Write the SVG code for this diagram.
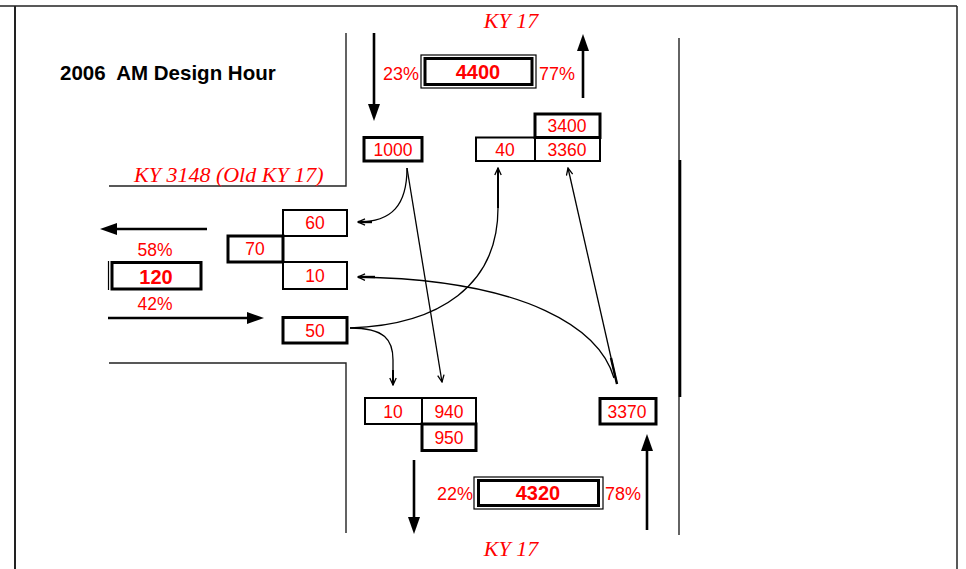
<svg xmlns="http://www.w3.org/2000/svg" width="966" height="569" viewBox="0 0 966 569">
<style>
.road{stroke:#222;stroke-width:1.4;fill:none}
.frame{stroke:#222;fill:none}
.box{fill:#fff;stroke:#000;stroke-width:2}
.tbox{fill:#fff;stroke:#000;stroke-width:3}
.num{font-family:"Liberation Sans",Arial,sans-serif;font-size:17.5px;fill:#ff0000;text-anchor:middle}
.big{font-family:"Liberation Sans",Arial,sans-serif;font-size:20px;font-weight:bold;fill:#ff0000;text-anchor:middle}
.pct{font-family:"Liberation Sans",Arial,sans-serif;font-size:18px;fill:#ff0000}
.road-name{font-family:"Liberation Serif","Times New Roman",serif;font-style:italic;font-size:22px;fill:#ff0000}
.main{stroke:#000;stroke-width:2.6;fill:none;marker-end:url(#head)}
.turn{stroke:#000;stroke-width:1.3;fill:none;marker-end:url(#open)}
</style>
<defs>
<marker id="head" markerUnits="userSpaceOnUse" viewBox="0 0 17 12" refX="4" refY="6" markerWidth="17" markerHeight="12" orient="auto">
<path d="M0,0 L17,6 L0,12 z" fill="#000"/>
</marker>
<marker id="open" markerUnits="userSpaceOnUse" viewBox="0 0 9 8" refX="8" refY="4" markerWidth="9" markerHeight="8" orient="auto">
<path d="M1,0.8 L8,4 L1,7.2" fill="none" stroke="#000" stroke-width="1.3"/>
</marker>
</defs>

<g id="frame">
<line class="frame" x1="0" y1="6" x2="957" y2="6" stroke-width="1.5"/>
<line class="frame" x1="15" y1="6" x2="15" y2="569" stroke-width="2"/>
<line class="frame" x1="957" y1="6" x2="957" y2="569" stroke-width="1.5"/>
</g>

<g id="roads">
<polyline class="road" points="346,33 346,186 109,186"/>
<polyline class="road" points="109,363 346,363 346,533"/>
<line class="road" x1="679" y1="38" x2="679" y2="535"/>
<line x1="680" y1="160" x2="680" y2="397" stroke="#000" stroke-width="2.6"/>
</g>

<g id="labels">
<text x="60" y="80" xml:space="preserve" font-family="'Liberation Sans',Arial,sans-serif" font-size="20.5" font-weight="bold" fill="#000">2006  AM Design Hour</text>
<text class="road-name" x="134" y="182">KY 3148 (Old KY 17)</text>
<text class="road-name" x="511" y="28" text-anchor="middle">KY 17</text>
<text class="road-name" x="511" y="556" text-anchor="middle">KY 17</text>
</g>

<g id="north-total">
<rect x="421" y="55" width="115" height="33" fill="#fff" stroke="#000" stroke-width="1.2"/>
<rect x="425" y="58.5" width="107" height="26" fill="none" stroke="#000" stroke-width="3"/>
<text class="big" x="478" y="79">4400</text>
<text class="pct" x="383" y="80">23%</text>
<text class="pct" x="539" y="80">77%</text>
</g>

<g id="south-total">
<rect x="474" y="477" width="129" height="32" fill="#fff" stroke="#000" stroke-width="1.2"/>
<rect x="478.5" y="480.5" width="120" height="25" fill="none" stroke="#000" stroke-width="3"/>
<text class="big" x="538" y="500">4320</text>
<text class="pct" x="437" y="500">22%</text>
<text class="pct" x="605" y="500">78%</text>
</g>

<g id="west-total">
<line x1="108.5" y1="261" x2="108.5" y2="290" stroke="#000" stroke-width="1.2"/>
<rect x="112" y="262.5" width="89" height="26.5" fill="#fff" stroke="#000" stroke-width="3"/>
<text class="big" x="156" y="284">120</text>
<text class="num" x="155" y="256">58%</text>
<text class="num" x="155" y="310">42%</text>
</g>

<g id="n-1000"><rect class="tbox" x="364" y="137.5" width="58" height="23.5"/><text class="num" x="393" y="155.5">1000</text></g>
<g id="n-40"><rect class="box" x="476" y="137.5" width="59" height="23.5"/><text class="num" x="505" y="155.5">40</text></g>
<g id="n-3360"><rect class="box" x="535" y="137.5" width="65" height="23.5"/><text class="num" x="567" y="155.5">3360</text></g>
<g id="n-3400"><rect class="tbox" x="535" y="114" width="65" height="23.5"/><text class="num" x="567" y="132">3400</text></g>

<g id="n-60"><rect class="box" x="283" y="210" width="64" height="26"/><text class="num" x="315" y="229">60</text></g>
<g id="n-70"><rect class="tbox" x="228" y="236" width="55" height="26"/><text class="num" x="255" y="255">70</text></g>
<g id="n-10w"><rect class="box" x="283" y="262" width="64" height="27"/><text class="num" x="315" y="282">10</text></g>
<g id="n-50"><rect class="tbox" x="283" y="317.5" width="64" height="25.5"/><text class="num" x="315" y="336.5">50</text></g>

<g id="n-10s"><rect class="box" x="365" y="398" width="57" height="26"/><text class="num" x="393" y="417.5">10</text></g>
<g id="n-940"><rect class="box" x="422" y="398" width="54" height="26"/><text class="num" x="449" y="417.5">940</text></g>
<g id="n-950"><rect class="tbox" x="422" y="424" width="54" height="26.5"/><text class="num" x="449" y="443.5">950</text></g>
<g id="n-3370"><rect class="tbox" x="600" y="398.5" width="56" height="25.5"/><text class="num" x="627" y="417.5">3370</text></g>

<g id="connectors">
<line class="main" x1="374" y1="33" x2="374" y2="108"/>
<line class="main" x1="583" y1="98" x2="583" y2="47"/>
<line class="main" x1="207" y1="229" x2="113" y2="229"/>
<line class="main" x1="108" y1="318" x2="251" y2="318"/>
<line class="main" x1="414" y1="460" x2="414" y2="521"/>
<line class="main" x1="647" y1="530" x2="647" y2="447"/>

<path class="turn" d="M407,168 C407,205 392,222 358,222"/>
<path class="turn" d="M407,168 L442,382"/>
<path class="turn" d="M350,328 C385,328 393,340 393,360 L393,385"/>
<path class="turn" d="M350,328 C440,325 498,285 498,208 L498,168"/>
<path class="turn" d="M614,378 C600,330 530,280 358,277"/>
<path class="turn" d="M617,384 L568,168"/>
<line x1="617" y1="384" x2="611" y2="358" stroke="#000" stroke-width="2.4"/>
<line x1="358" y1="222" x2="372" y2="222" stroke="#000" stroke-width="2.4"/>
<line x1="358" y1="277" x2="375" y2="277" stroke="#000" stroke-width="2.4"/>
<line x1="498" y1="168" x2="498" y2="208" stroke="#000" stroke-width="2"/>
<line x1="393" y1="370" x2="393" y2="385" stroke="#000" stroke-width="2"/>
</g>
</svg>
